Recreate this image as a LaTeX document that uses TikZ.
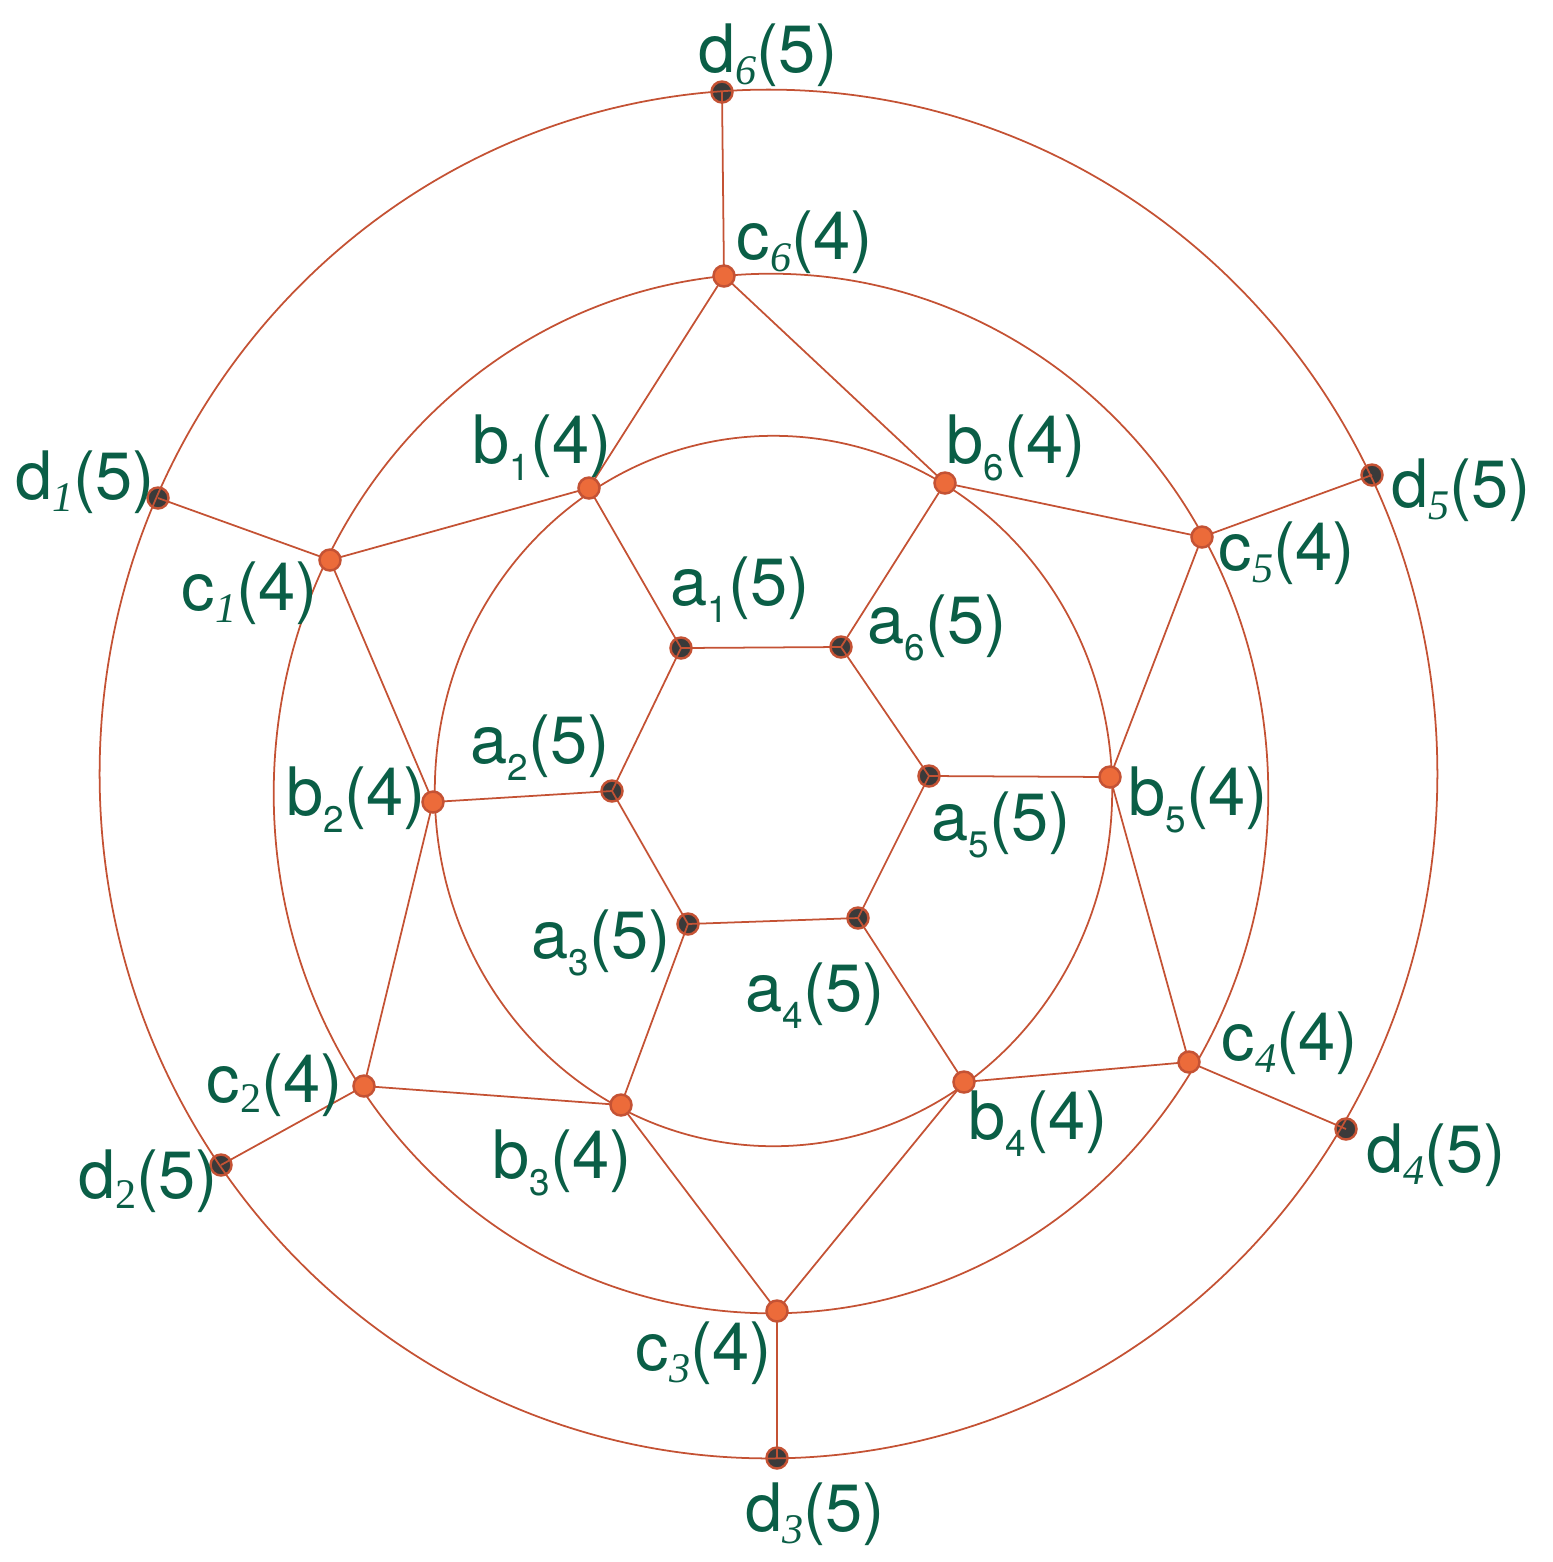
\documentclass[tikz,border=0pt]{standalone}
\usepackage{fontspec}
\setmainfont{TeX Gyre Heros}
\newfontfamily\subserif{Liberation Serif}
\usetikzlibrary{positioning}
\definecolor{edgered}{RGB}{196,82,52}
\definecolor{dotorange}{RGB}{236,107,58}
\definecolor{dotdark}{RGB}{58,58,58}
\definecolor{labgreen}{RGB}{10,94,70}
\tikzstyle{edge} = [edgered, line width=0.5pt]
\tikzstyle{odot} = [circle, draw=edgered, fill=dotorange, line width=0.7pt, inner sep=0pt, minimum size=0.21cm]
\tikzstyle{ddot} = [circle, draw=edgered, fill=dotdark, line width=0.7pt, inner sep=0pt, minimum size=0.21cm]
\tikzstyle{lab} = [text=labgreen, font=\fontsize{19}{22}\selectfont, inner sep=0pt]
\newcommand{\sfs}[1]{\raisebox{-0.17cm}{\fontsize{10.5}{11}\selectfont #1}}
\newcommand{\its}[1]{\raisebox{-0.12cm}{\fontsize{12}{12}\selectfont\subserif\itshape #1}}
\newcommand{\rms}[1]{\raisebox{-0.1cm}{\fontsize{12}{12}\selectfont\subserif #1}}
\pgfdeclarelayer{bg}
\pgfdeclarelayer{mid}
\pgfsetlayers{bg,mid,main}

\begin{document}
\begin{tikzpicture}[x=0.01cm,y=-0.01cm]
\useasboundingbox (0,0) rectangle (1553,1562);
\begin{pgfonlayer}{bg}
 \node[ddot] (a1) at (681,648) {};
 \node[ddot] (a2) at (612,791) {};
 \node[ddot] (a3) at (688,924) {};
 \node[ddot] (a4) at (858,918) {};
 \node[ddot] (a5) at (929,776) {};
 \node[ddot] (a6) at (841,647) {};
 \node[ddot] (d1) at (158,498) {};
 \node[ddot] (d2) at (221,1165) {};
 \node[ddot] (d3) at (777,1458) {};
 \node[ddot] (d4) at (1346,1129) {};
 \node[ddot] (d5) at (1372,475) {};
 \node[ddot] (d6) at (722,92) {};
\end{pgfonlayer}
 \node[odot] (b1) at (589,488) {};
 \node[odot] (b2) at (433,802) {};
 \node[odot] (b3) at (621,1105) {};
 \node[odot] (b4) at (964,1082) {};
 \node[odot] (b5) at (1110,777) {};
 \node[odot] (b6) at (945,483) {};
 \node[odot] (c1) at (330,560) {};
 \node[odot] (c2) at (364,1086) {};
 \node[odot] (c3) at (777,1311) {};
 \node[odot] (c4) at (1189,1062) {};
 \node[odot] (c5) at (1202,537) {};
 \node[odot] (c6) at (724,276) {};
\begin{pgfonlayer}{mid}
 \draw[edge] (773.5,791) ellipse [x radius=3.385cm, y radius=3.55cm];
 \draw[edge] (771,793.5) ellipse [x radius=4.97cm, y radius=5.195cm];
 \draw[edge] (768.5,774) ellipse [x radius=6.685cm, y radius=6.84cm];
 \draw[edge] (a1.center) -- (a6.center) -- (a5.center) -- (a4.center) -- (a3.center) -- (a2.center) -- cycle;
 \draw[edge] (a1.center) -- (b1.center);
 \draw[edge] (a2.center) -- (b2.center);
 \draw[edge] (a3.center) -- (b3.center);
 \draw[edge] (a4.center) -- (b4.center);
 \draw[edge] (a5.center) -- (b5.center);
 \draw[edge] (a6.center) -- (b6.center);
 \draw[edge] (c6.center) -- (b1.center) -- (c1.center) -- (b2.center) -- (c2.center) -- (b3.center)
   -- (c3.center) -- (b4.center) -- (c4.center) -- (b5.center) -- (c5.center) -- (b6.center) -- cycle;
 \draw[edge] (c1.center) -- (d1.center);
 \draw[edge] (c2.center) -- (d2.center);
 \draw[edge] (c3.center) -- (d3.center);
 \draw[edge] (c4.center) -- (d4.center);
 \draw[edge] (c5.center) -- (d5.center);
 \draw[edge] (c6.center) -- (d6.center);
\end{pgfonlayer}
 \node[lab] (la1) at (740,590) {a\sfs{1}(5)};
 \node[lab] (la2) at (540,748) {a\sfs{2}(5)};
 \node[lab] (la3) at (601,943) {a\sfs{3}(5)};
 \node[lab] (la4) at (815,996) {a\sfs{4}(5)};
 \node[lab] (la5) at (1001,825) {a\sfs{5}(5)};
 \node[lab] (la6) at (937,628) {a\sfs{6}(5)};
 \node[lab] (lb1) at (542,448) {b\sfs{1}(4)};
 \node[lab] (lb2) at (356,800) {b\sfs{2}(4)};
 \node[lab] (lb3) at (562,1163) {b\sfs{3}(4)};
 \node[lab] (lb4) at (1038,1124) {b\sfs{4}(4)};
 \node[lab] (lb5) at (1198,800) {b\sfs{5}(4)};
 \node[lab] (lb6) at (1016,448) {b\sfs{6}(4)};
 \node[lab] (lc1) at (250,593) {c\its{1}(4)};
 \node[lab] (lc2) at (275,1085) {c\rms{2}(4)};
 \node[lab] (lc3) at (704,1353) {c\its{3}(4)};
 \node[lab] (lc4) at (1290,1043) {c\its{4}(4)};
 \node[lab] (lc5) at (1287,553) {c\its{5}(4)};
 \node[lab] (lc6) at (805,242) {c\its{6}(4)};
 \node[lab] (ld1) at (85,482) {d\its{1}(5)};
 \node[lab] (ld2) at (148,1181) {d\rms{2}(5)};
 \node[lab] (ld3) at (815,1514) {d\its{3}(5)};
 \node[lab] (ld4) at (1436,1155) {d\its{4}(5)};
 \node[lab] (ld5) at (1461,490) {d\its{5}(5)};
 \node[lab] (ld6) at (768,55) {d\its{6}(5)};
\end{tikzpicture}
\end{document}
